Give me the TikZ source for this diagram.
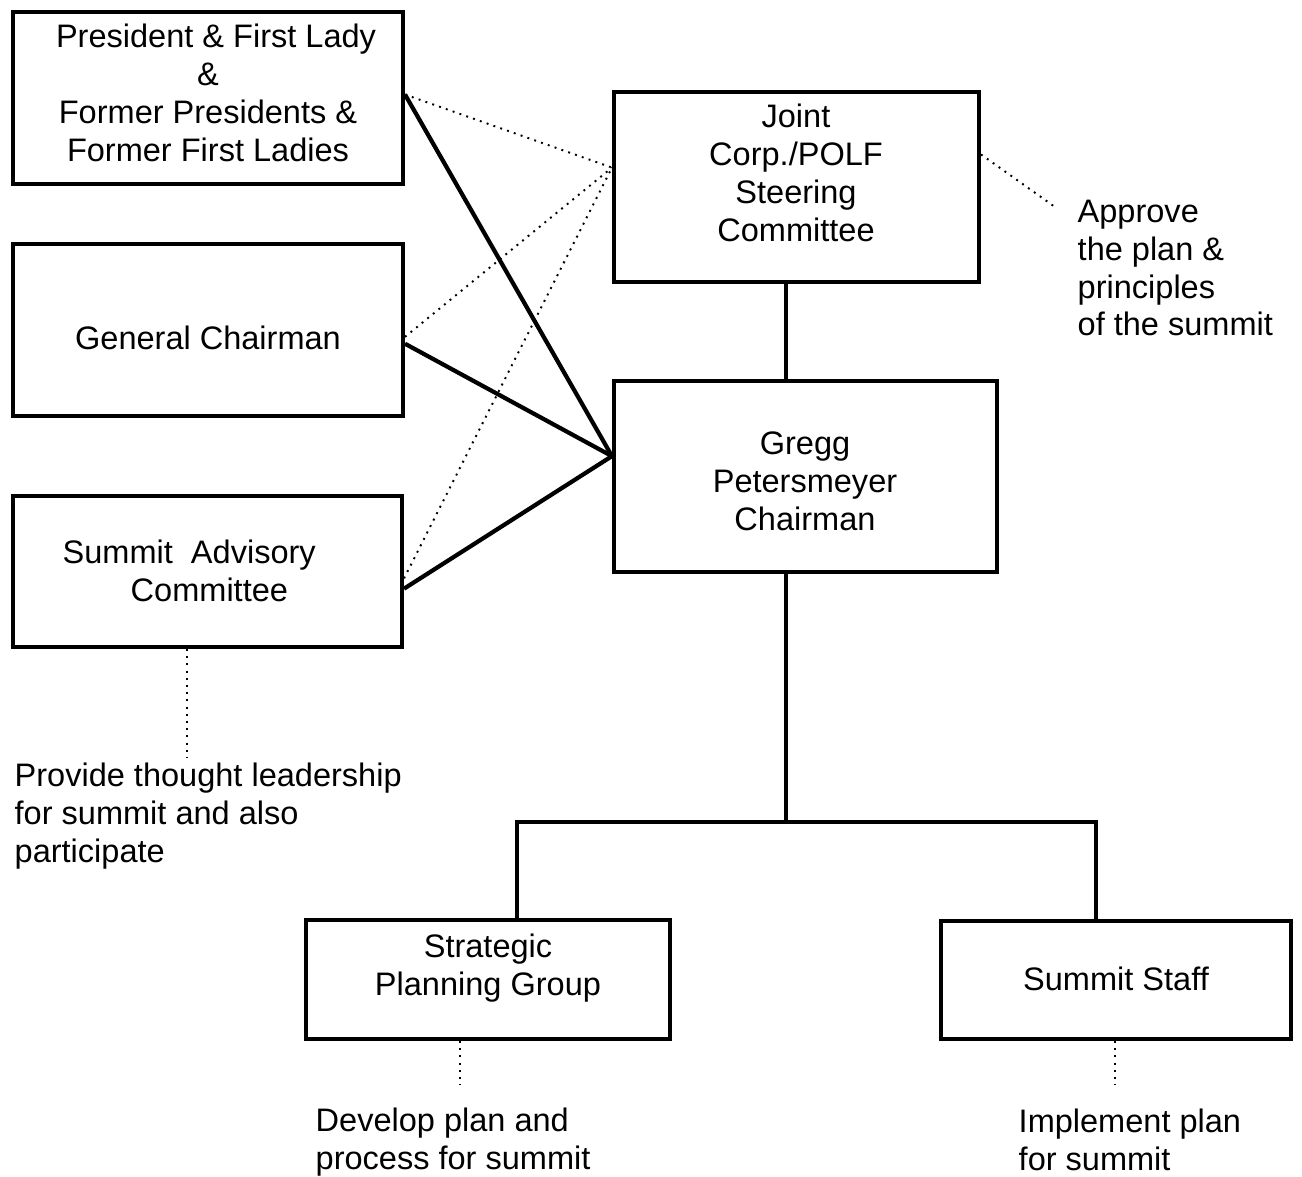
\documentclass[tikz,border=0pt]{standalone}
\usepackage{fontspec}
\setmainfont{Liberation Sans}
\begin{document}
\begin{tikzpicture}[x=0.01cm, y=-0.01cm,
    box/.style={draw, line width=1.1pt, rectangle, inner sep=0pt},
    txt/.style={inner sep=0pt, align=center, font=\fontsize{9.25pt}{10.8pt}\selectfont},
    note/.style={inner sep=0pt, align=left, anchor=west, font=\fontsize{9.25pt}{10.8pt}\selectfont},
    link/.style={line width=1.2pt},
    dots/.style={line width=0.55pt, dash pattern=on 0.55pt off 1.5pt}]
  \useasboundingbox (0,0) rectangle (1302,1177);
  \draw
    (208,98) node[box, minimum width=3.90cm, minimum height=1.72cm] (pres){}
    (208,330) node[box, minimum width=3.90cm, minimum height=1.72cm] (gen){}
    (207.5,571.5) node[box, minimum width=3.89cm, minimum height=1.51cm] (sac){}
    (796.5,187) node[box, minimum width=3.65cm, minimum height=1.90cm] (joint){}
    (805.5,476.5) node[box, minimum width=3.83cm, minimum height=1.91cm] (gregg){}
    (488,979.5) node[box, minimum width=3.64cm, minimum height=1.19cm] (spg){}
    (1116,980) node[box, minimum width=3.50cm, minimum height=1.18cm] (staff){};
  \draw
    (208,93) node[txt] (presT){\hspace*{0.16cm}President \& First Lady\\\&\\Former Presidents \&\\Former First Ladies}
    (208,338) node[txt] (genT){General Chairman}
    (62,571) node[note] (sacT){Summit\ \ Advisory\\\hspace*{0.68cm}Committee}
    (796,173) node[txt] (jointT){Joint\\Corp./POLF\\Steering\\Committee}
    (805,481) node[txt] (greggT){Gregg\\Petersmeyer\\Chairman}
    (488,968) node[txt] (spgT){Strategic\\Planning Group}
    (1116,979) node[txt] (staffT){Summit Staff}
    (1077,268) node[note] (approve){Approve\\the plan \&\\principles\\of the summit}
    (14,816) node[note] (provide){Provide thought leadership\\for summit and also\\participate}
    (315,1142) node[note] (develop){Develop plan and\\process for summit}
    (1018,1140) node[note] (implement){Implement plan\\for summit};
  \coordinate (trunk) at (786,822);
  \coordinate (lbr) at (517,822);
  \coordinate (rbr) at (1096,822);
  \coordinate (n1) at (187,758);
  \coordinate (n2) at (460,1085);
  \coordinate (n3) at (1115,1085);
  \coordinate (n4) at (1055,207);
  \begin{scope}[link]
    \draw (pres.1) to (gregg.174);
    \draw (gen.-4) to (gregg.174);
    \draw (sac.-5) to (gregg.174);
    \draw (joint.south -| trunk) to (gregg.north -| trunk);
    \draw (gregg.south -| trunk) to (trunk);
    \draw (lbr |- spg.north) -- (lbr) -- (rbr) -- (rbr |- staff.north);
  \end{scope}
  \begin{scope}[dots]
    \draw (pres.1) to (joint.174);
    \draw (gen.-2) to (joint.174);
    \draw (sac.-2) to (joint.174);
    \draw (joint.10) to (n4);
    \draw (sac.south -| n1) to (n1);
    \draw (spg.south -| n2) to (n2);
    \draw (staff.south -| n3) to (n3);
  \end{scope}
\end{tikzpicture}
\end{document}
